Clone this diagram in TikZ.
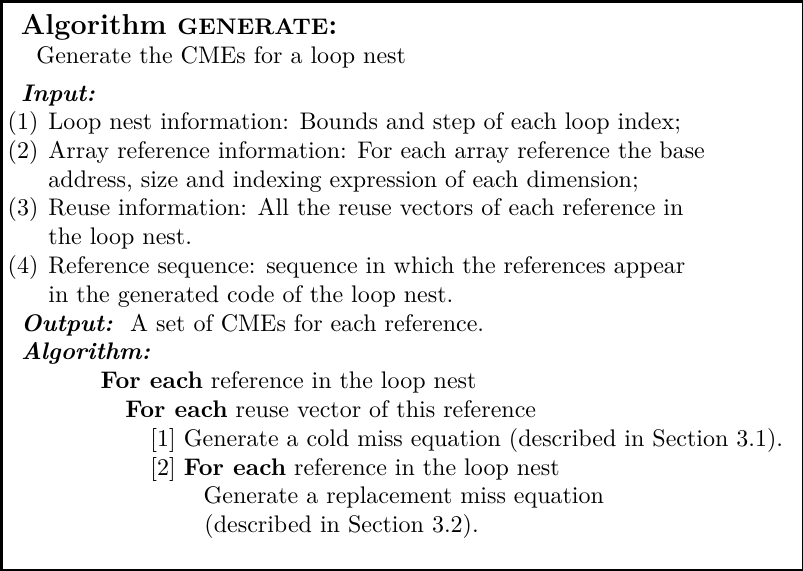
\documentclass[tikz,border=0pt]{standalone}
\usepackage{xcolor}
\usepackage{tikz}

\newcommand{\fe}{\textbf{For each}}

\begin{document}
\begin{tikzpicture}[x=1pt, y=1pt,
    txt/.style={anchor=base west, inner sep=0pt},
    hd/.style={anchor=base west, inner sep=0pt, font=\bfseries\itshape}]
  \useasboundingbox (0,0) rectangle (334.6,-237.9);
  \draw[line width=0.6pt] (0,-237.5) -- (334.3,-237.5) -- (334.3,0);
  \draw[line width=1.3pt] (0.65,-237.9) -- (0.65,-0.65) -- (334.6,-0.65);

  \node[txt, font=\large\bfseries] (title) at (8.5,-14.2)
    {Algorithm {\fontsize{9.4}{11}\selectfont GENERATE}:};
  \node[txt] (purpose) at (15,-26.5) {Generate the CMEs for a loop nest};

  \node[hd] (input) at (8.6,-42.2) {Input:};
  \node[txt] (n1) at (3,-54) {(1)};
  \node[txt] (in1) at (20,-54) {Loop nest information: Bounds and step of each loop index;};
  \node[txt] (n2) at (3,-66) {(2)};
  \node[txt] (in2) at (20,-66) {Array reference information: For each array reference the base};
  \node[txt] (in2b) at (20,-78) {address, size and indexing expression of each dimension;};
  \node[txt] (n3) at (3,-90) {(3)};
  \node[txt] (in3) at (20,-90) {Reuse information: All the reuse vectors of each reference in};
  \node[txt] (in3b) at (20,-102) {the loop nest.};
  \node[txt] (n4) at (3,-114) {(4)};
  \node[txt] (in4) at (20,-114) {Reference sequence: sequence in which the references appear};
  \node[txt] (in4b) at (20,-126) {in the generated code of the loop nest.};

  \node[hd] (output) at (8.6,-138) {Output:};
  \node[txt] (out) at (54,-138) {A set of CMEs for each reference.};
  \node[hd] (algo) at (8.6,-150) {Algorithm:};

  \node[txt] (loopA) at (41.7,-162) {\fe{} reference in the loop nest};
  \node[txt] (loopB) at (52,-174) {\fe{} reuse vector of this reference};
  \node[txt] (step1) at (62.5,-186) {[1] Generate a cold miss equation (described in Section 3.1).};
  \node[txt] (step2) at (62.5,-198) {[2] \fe{} reference in the loop nest};
  \node[txt] (repl) at (84.6,-210) {Generate a replacement miss equation};
  \node[txt] (repl2) at (85,-222) {(described in Section 3.2).};
\end{tikzpicture}
\end{document}
